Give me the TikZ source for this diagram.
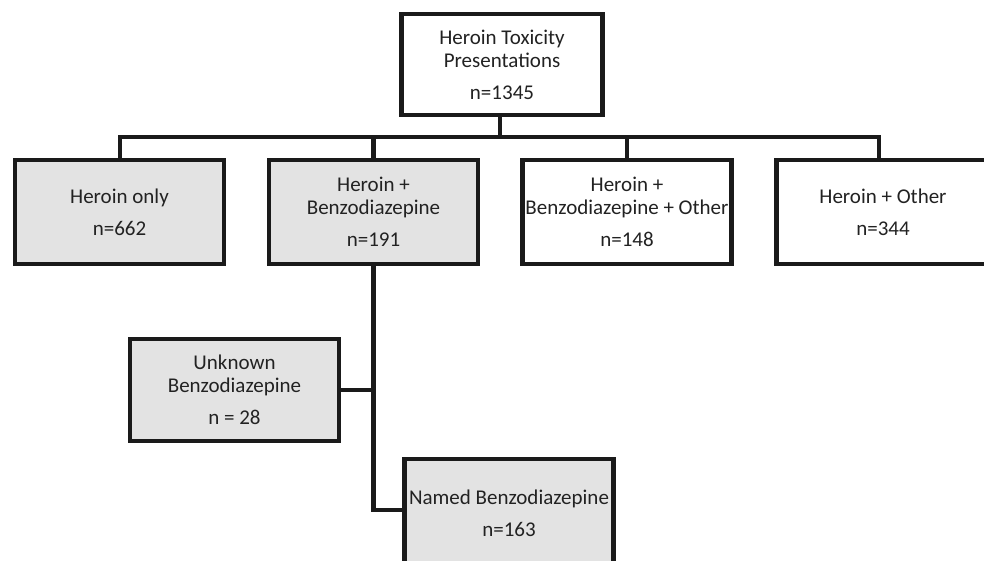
\documentclass[tikz,border=0pt]{standalone}
\usepackage{fontspec}
\setmainfont{Carlito}
\definecolor{boxgrey}{HTML}{E3E3E3}
\definecolor{ink}{HTML}{1A1A1A}
\definecolor{txt}{HTML}{222222}
\begin{document}
\begin{tikzpicture}[x=1pt,y=-1pt,
  box/.style={draw=ink,line width=4.5pt,rectangle,inner sep=0pt,
    minimum width=209pt,minimum height=104pt,align=center,text=txt,
    font=\fontsize{21}{23}\selectfont},
  greybox/.style={box,fill=boxgrey},
  whitebox/.style={box,fill=white},
  conn/.style={draw=ink,line width=4.5pt,line cap=rect,line join=miter}]
\useasboundingbox (0,0) rectangle (984,560);
\clip (0,0) rectangle (984,560);
\fill[white] (0,0) rectangle (984,560);
\node[whitebox,minimum width=201pt,minimum height=101pt] (top) at (502,64.5)
  {Heroin Toxicity\\Presentations\\[9pt]n=1345};
\node[greybox] (a) at (119.5,212) {Heroin only\\[9pt]n=662};
\node[greybox] (b) at (373.5,212) {Heroin +\\Benzodiazepine\\[9pt]n=191};
\node[whitebox] (c) at (627,212) {Heroin +\\Benzodiazepine + Other\\[9pt]n=148};
\node[whitebox,minimum width=213pt] (d) at (883,212) {Heroin + Other\\[9pt]n=344};
\node[greybox,minimum height=102pt] (e) at (234.5,390) {Unknown\\Benzodiazepine\\[9pt]n = 28};
\node[greybox,minimum height=108pt] (f) at (509,513) {Named Benzodiazepine\\[9pt]n=163};
\coordinate (j) at (500,137);
\coordinate (k) at (373.5,510);
\draw[conn] (top.south -| j) -- (j);
\draw[conn] ([xshift=0.5pt]a.north) |- (j) -| ([xshift=-4pt]d.north);
\draw[conn] (b.north) -- (b.north |- j);
\draw[conn] (c.north) -- (c.north |- j);
\draw[conn] (b.south) -- (k) -- (k -| f.west);
\draw[conn] (e.east) -- (e.east -| b.south);
\end{tikzpicture}
\end{document}
